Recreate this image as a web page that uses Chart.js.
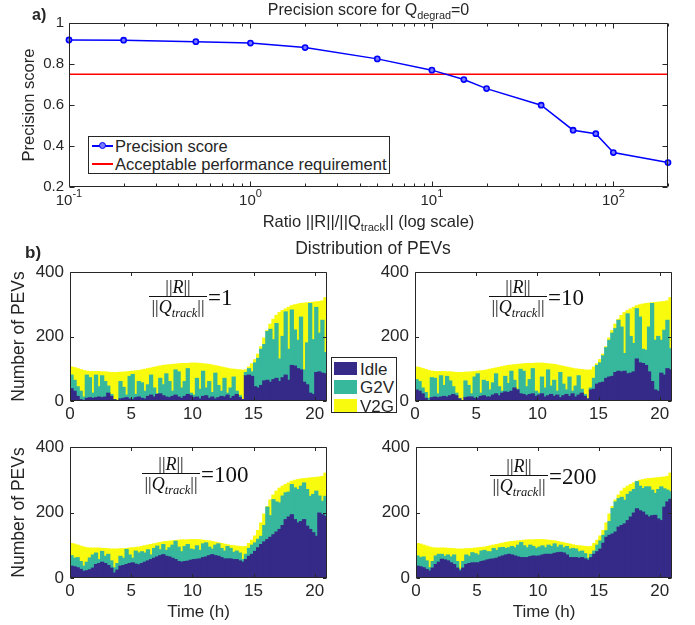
<!DOCTYPE html>
<html><head><meta charset="utf-8">
<script src="https://cdn.jsdelivr.net/npm/chart.js@4.4.1/dist/chart.umd.min.js"></script>
<style>
html,body{margin:0;padding:0;background:#fff}
body{position:relative;width:695px;height:625px;overflow:hidden;font-family:"Liberation Sans",Arial,Helvetica,sans-serif;color:#262626}
canvas{position:absolute}
.t{position:absolute;white-space:nowrap;line-height:1}
.c{transform:translate(-50%,-50%)}
.v{transform:translateY(-50%)}
.t sub{font-size:0.68em;vertical-align:-0.4em;line-height:0}
.lg{position:absolute;background:#fff;border:1px solid #262626;box-sizing:border-box}
.frac{position:absolute;height:0;border-top:1px solid #111;font-family:"Liberation Serif","Times New Roman",serif;color:#111}
.frac .num{position:absolute;left:0;right:0;bottom:1px;text-align:center;font-size:18px;line-height:1;white-space:nowrap}
.frac .den{position:absolute;left:0;right:0;top:1px;text-align:center;font-size:18px;line-height:1;white-space:nowrap}
.frac .eq{position:absolute;left:100%;top:0;transform:translateY(-50%);font-size:23px;line-height:1;padding-left:1px;white-space:nowrap}
.frac i{font-style:italic}
.frac sub{font-size:12.5px;font-style:italic;vertical-align:-4px;line-height:0}
.sw{position:absolute;width:23px;height:13.5px}
</style></head><body>
<canvas id="cTop" width="695" height="240" style="left:0;top:0"></canvas>
<canvas id="p1" width="345" height="175" style="left:0;top:250px"></canvas>
<canvas id="p10" width="350" height="175" style="left:345px;top:250px"></canvas>
<canvas id="p100" width="345" height="195" style="left:0;top:430px"></canvas>
<canvas id="p200" width="350" height="195" style="left:345px;top:430px"></canvas>

<!-- panel a texts -->
<div class="t" style="left:32px;top:7px;font-size:16px;font-weight:bold">a)</div>
<div class="t c" style="left:368.5px;top:10px;font-size:16px">Precision score for Q<sub>degrad</sub>=0</div>
<div class="t c" style="left:368.5px;top:221px;font-size:16.5px">Ratio ||R||/||Q<sub>track</sub>|| (log scale)</div>
<div class="lg" style="left:88px;top:136px;width:302px;height:38px"></div>
<div style="position:absolute;left:92px;top:145px;width:21px;height:1.6px;background:#0000ff"></div>
<div style="position:absolute;left:98.5px;top:141.7px;width:5px;height:5px;border:1.5px solid #0000ff;border-radius:50%;background:#7a7aff"></div>
<div class="t v" style="left:115px;top:146px;font-size:16.5px">Precision score</div>
<div style="position:absolute;left:92px;top:162.5px;width:21px;height:2px;background:#ff0000"></div>
<div class="t v" style="left:115px;top:163.5px;font-size:16.5px">Acceptable performance requirement</div>

<!-- panel b texts -->
<div class="t" style="left:25px;top:244px;font-size:17px;font-weight:bold">b)</div>
<div class="t c" style="left:373px;top:249px;font-size:17.5px">Distribution of PEVs</div>

<div class="frac" style="left:149px;top:296px;width:58px"><div class="num">||<i>R</i>||</div><div class="den">||<i>Q</i><sub>track</sub>||</div><div class="eq">=1</div></div>
<div class="frac" style="left:489px;top:296px;width:58px"><div class="num">||<i>R</i>||</div><div class="den">||<i>Q</i><sub>track</sub>||</div><div class="eq">=10</div></div>
<div class="frac" style="left:142px;top:473px;width:58px"><div class="num">||<i>R</i>||</div><div class="den">||<i>Q</i><sub>track</sub>||</div><div class="eq">=100</div></div>
<div class="frac" style="left:490px;top:475px;width:58px"><div class="num">||<i>R</i>||</div><div class="den">||<i>Q</i><sub>track</sub>||</div><div class="eq">=200</div></div>

<div class="lg" style="left:331px;top:357px;width:66px;height:56px"></div>
<div class="sw" style="left:334px;top:361.5px;background:#352A87"></div>
<div class="sw" style="left:334px;top:380px;background:#37B89D"></div>
<div class="sw" style="left:334px;top:398.5px;background:#F9FB0E"></div>
<div class="t v" style="left:360px;top:369px;font-size:17px">Idle</div>
<div class="t v" style="left:360px;top:387px;font-size:17px">G2V</div>
<div class="t v" style="left:360px;top:405.5px;font-size:17px">V2G</div>

<script>
// ---------- Data: panel a ----------
const ratios = [0.1, 0.2, 0.5, 1, 2, 5, 10, 15, 20, 40, 60, 80, 100, 200];
const precision = [0.917, 0.916, 0.909, 0.902, 0.880, 0.825, 0.770, 0.724, 0.680, 0.599, 0.477, 0.460, 0.368, 0.319];
const requirement = 0.75;
const ratioTickExps = [-1, 0, 1, 2];

// ---------- Data: panel b (15-min slots, 0..21 h) ----------
const slotStart = [0,0.25,0.5,0.75,1,1.25,1.5,1.75,2,2.25,2.5,2.75,3,3.25,3.5,3.75,4,4.25,4.5,4.75,5,5.25,5.5,5.75,6,6.25,6.5,6.75,7,7.25,7.5,7.75,8,8.25,8.5,8.75,9,9.25,9.5,9.75,10,10.25,10.5,10.75,11,11.25,11.5,11.75,12,12.25,12.5,12.75,13,13.25,13.5,13.75,14,14.25,14.5,14.75,15,15.25,15.5,15.75,16,16.25,16.5,16.75,17,17.25,17.5,17.75,18,18.25,18.5,18.75,19,19.25,19.5,19.75,20,20.25,20.5,20.75];
const slotWidth = 0.25;
// total number of PEVs (top of the V2G band), same in all four panels
const total = [105,103,100,97,94,92,91,91,91,91,90,90,89,88,88,88,89,89,90,91,92,93,94,96,98,100,102,104,106,108,110,111,112,113,114,115,116,116,116,117,117,117,116,115,114,113,111,109,107,105,103,101,99,98,97,96,95,96,105,115,128,145,168,195,218,238,253,265,274,280,285,290,295,298,300,302,303,304,305,306,307,308,310,320];
// ||R||/||Q|| = 1 : Idle count, and top of the G2V band (Idle + G2V)
const idle1 = [38,30,14,4,0,8,10,8,10,12,10,12,24,14,4,0,6,8,10,6,4,10,12,8,6,14,18,12,20,22,16,12,10,14,18,12,8,14,20,16,10,12,6,14,16,8,12,6,10,14,12,18,8,14,20,10,4,78,80,76,44,40,48,62,64,58,66,70,60,72,80,64,110,108,100,96,58,50,24,20,88,90,86,84];
const g2vTop1 = [80,64,44,30,12,80,72,24,80,44,78,60,46,20,4,0,60,42,18,76,82,20,60,56,30,50,80,40,22,70,50,84,60,30,96,90,40,60,100,24,18,70,36,92,40,60,26,86,48,30,70,24,40,74,30,16,4,88,100,90,118,132,160,175,215,222,190,240,130,200,276,160,282,220,188,260,96,180,302,190,290,210,250,150];
// ||R||/||Q|| = 10
const idle10 = [34,30,22,8,0,10,12,10,12,14,12,16,20,16,6,0,10,12,12,8,8,14,16,12,12,18,22,16,24,28,26,30,40,34,22,20,16,20,22,14,18,22,12,16,20,14,18,10,16,20,14,22,12,18,24,14,6,34,36,52,56,58,70,74,76,88,92,90,92,84,86,90,130,118,116,110,90,60,34,30,86,80,100,96];
const g2vTop10 = [66,60,40,26,8,72,70,22,78,48,76,62,44,24,8,0,62,48,22,74,84,24,64,60,34,56,84,44,30,76,54,92,64,36,98,92,44,66,100,30,24,74,40,96,46,64,30,88,52,34,74,30,46,78,36,20,6,40,70,110,118,140,165,188,210,224,250,229,147,270,200,178,286,260,160,157,229,302,188,200,188,219,250,162];
// ||R||/||Q|| = 100
const idle100 = [36,34,31,26,20,22,25,30,41,44,48,44,38,30,15,24,36,38,41,44,46,42,40,44,48,52,56,60,64,68,71,66,64,60,56,50,48,50,51,54,56,57,58,62,64,68,71,68,66,62,58,58,58,56,56,52,48,56,66,72,81,92,102,110,117,124,132,140,148,160,178,186,193,178,168,172,178,158,148,138,127,198,193,188];
const g2vTop100 = [68,60,62,50,36,48,61,70,76,56,81,66,72,52,31,44,66,60,87,70,60,82,76,80,76,86,70,90,97,86,102,84,92,100,112,94,80,96,102,88,86,98,84,104,107,94,88,100,104,90,82,96,90,78,82,76,56,72,90,100,107,118,127,160,216,190,239,232,229,250,260,262,285,275,270,280,290,270,249,255,265,250,234,249];
// ||R||/||Q|| = 200
const idle200 = [36,34,31,26,21,30,41,48,57,55,52,46,41,30,21,30,41,44,46,46,46,50,52,55,57,58,60,64,67,70,72,70,67,64,62,62,62,65,67,66,67,70,72,72,72,75,77,78,76,70,62,62,62,60,62,58,54,62,72,80,88,106,124,130,134,140,155,160,165,175,186,198,211,205,201,192,186,190,191,180,175,216,232,240];
const g2vTop200 = [67,62,64,52,31,50,67,72,72,66,70,64,70,50,26,50,70,66,77,74,70,82,84,80,80,90,84,92,93,90,92,96,92,100,108,98,92,100,96,90,94,98,92,100,96,104,94,100,92,96,88,90,88,80,82,74,60,72,82,100,113,130,144,172,212,232,242,246,237,255,263,270,294,280,273,278,278,268,258,270,278,272,268,263];

// ---------- Styling ----------
const AXC = '#262626';
const COL_IDLE = '#352A87', COL_G2V = '#37B89D', COL_V2G = '#F9FB0E';
Chart.defaults.font.family = '"Liberation Sans", Arial, Helvetica, sans-serif';
Chart.defaults.color = AXC;

function framePlugin(xTicks, yTicks) {
  return {
    id: 'frame',
    afterDatasetsDraw(chart) {
      const {ctx, chartArea: a, scales} = chart;
      const L = Math.round(a.left) + 0.5, R = Math.round(a.right) - 0.5;
      const T = Math.round(a.top) + 0.5, B = Math.round(a.bottom) - 0.5;
      ctx.save();
      ctx.strokeStyle = AXC; ctx.lineWidth = 1;
      ctx.beginPath();
      ctx.rect(L, T, R - L, B - T);
      for (const t of xTicks(scales.x)) {
        const px = Math.round(scales.x.getPixelForValue(t.v)) + 0.5;
        ctx.moveTo(px, B); ctx.lineTo(px, B - t.len);
        ctx.moveTo(px, T); ctx.lineTo(px, T + t.len);
      }
      for (const t of yTicks(scales.y)) {
        const py = Math.round(scales.y.getPixelForValue(t.v)) + 0.5;
        ctx.moveTo(L, py); ctx.lineTo(L + t.len, py);
        ctx.moveTo(R, py); ctx.lineTo(R - t.len, py);
      }
      ctx.stroke();
      ctx.restore();
    }
  };
}

// ---------- Panel a ----------
const logTickLabels = {
  id: 'logTickLabels',
  afterDraw(chart) {
    const {ctx, chartArea: a, scales: {x}} = chart;
    const big = '15px "Liberation Sans", Arial, sans-serif';
    const small = '11px "Liberation Sans", Arial, sans-serif';
    ctx.save();
    ctx.fillStyle = AXC; ctx.textBaseline = 'alphabetic'; ctx.textAlign = 'left';
    for (const e of ratioTickExps) {
      const px = x.getPixelForValue(Math.pow(10, e));
      ctx.font = big; const w1 = ctx.measureText('10').width;
      const es = String(e);
      ctx.font = small; const w2 = ctx.measureText(es).width;
      const x0 = px - (w1 + w2) / 2;
      ctx.font = big; ctx.fillText('10', x0, a.bottom + 18);
      ctx.font = small; ctx.fillText(es, x0 + w1, a.bottom + 10);
    }
    ctx.restore();
  }
};

function logTickList() {
  const out = [];
  for (const e of ratioTickExps) {
    for (let k = 1; k <= 9; k++) {
      const v = k * Math.pow(10, e);
      if (v >= 0.1 - 1e-9 && v <= 200 + 1e-9) out.push({v, len: k === 1 ? 5 : 3});
    }
  }
  return out;
}

new Chart(document.getElementById('cTop'), {
  type: 'line',
  data: {
    datasets: [
      {
        label: 'Precision score',
        data: ratios.map((r, i) => ({x: r, y: precision[i]})),
        borderColor: '#0000ff', borderWidth: 1.5,
        pointRadius: 2.6, pointBorderWidth: 1.6,
        pointBackgroundColor: '#7a7aff', pointBorderColor: '#0000ff',
        tension: 0, clip: false, order: 0
      },
      {
        label: 'Acceptable performance requirement',
        data: [{x: ratios[0], y: requirement}, {x: ratios[ratios.length - 1], y: requirement}],
        borderColor: '#ff0000', borderWidth: 1.5, pointRadius: 0, tension: 0, order: 1
      }
    ]
  },
  options: {
    responsive: false, animation: false, events: [],
    layout: {padding: {left: 0, top: 23, right: 27, bottom: 0}},
    plugins: {legend: {display: false}, tooltip: {enabled: false}},
    scales: {
      x: {
        type: 'logarithmic', min: 0.1, max: 200,
        grid: {display: false, drawTicks: false}, border: {display: false},
        ticks: {display: false},
        afterFit(s) { s.height = 53; }
      },
      y: {
        min: 0.2, max: 1,
        grid: {display: false, drawTicks: false}, border: {display: false},
        ticks: {stepSize: 0.2, font: {size: 15}, color: AXC, padding: 5,
                callback: v => String(Math.round(v * 10) / 10)},
        title: {display: true, text: 'Precision score', font: {size: 16.5}, color: AXC, padding: {top: 20, bottom: 0}},
        afterFit(s) { s.width = 69; }
      }
    }
  },
  plugins: [
    framePlugin(() => logTickList(), y => y.ticks.map(t => ({v: t.value, len: 5}))),
    logTickLabels
  ]
});

// ---------- Panel b ----------
function makePanel(id, idle, g2vTop, o) {
  const centers = slotStart.map(s => s + slotWidth / 2);
  const band = (lo, hi) => centers.map((c, i) => ({x: c, y: [lo ? lo[i] : 0, hi[i]]}));
  return new Chart(document.getElementById(id), {
    type: 'bar',
    data: {
      datasets: [
        {label: 'Idle', data: band(null, idle), backgroundColor: COL_IDLE},
        {label: 'G2V', data: band(idle, g2vTop), backgroundColor: COL_G2V},
        {label: 'V2G', data: band(g2vTop, total), backgroundColor: COL_V2G}
      ]
    },
    options: {
      responsive: false, animation: false, events: [],
      datasets: {bar: {barPercentage: 1, categoryPercentage: 1, borderWidth: 0, inflateAmount: 0.6}},
      layout: {padding: {left: 0, top: o.padTop, right: o.padRight, bottom: 0}},
      plugins: {legend: {display: false}, tooltip: {enabled: false}},
      scales: {
        x: {
          type: 'linear', min: 0, max: 21, offset: false, stacked: true,
          grid: {display: false, drawTicks: false, offset: false}, border: {display: false},
          ticks: {stepSize: 5, includeBounds: false, font: {size: 17}, color: AXC, padding: 3, maxRotation: 0, autoSkip: false},
          title: {display: o.xTitle, text: 'Time (h)', font: {size: 17}, color: AXC, padding: {top: 0, bottom: 2}},
          afterFit(s) { s.height = o.xH; }
        },
        y: {
          min: 0, max: 400, stacked: false,
          grid: {display: false, drawTicks: false}, border: {display: false},
          ticks: {stepSize: 200, font: {size: 17}, color: AXC, padding: 6},
          title: {display: o.yTitle, text: 'Number of PEVs', font: {size: 17.5}, color: AXC, padding: {top: 9, bottom: 0}},
          afterFit(s) { s.width = o.yW; }
        }
      }
    },
    plugins: [framePlugin(
      x => x.ticks.map(t => ({v: t.value, len: 3.5})),
      y => y.ticks.map(t => ({v: t.value, len: 3.5}))
    )]
  });
}

makePanel('p1', idle1, g2vTop1, {padTop: 22, padRight: 18, yW: 70, xH: 24, yTitle: true, xTitle: false});
makePanel('p10', idle10, g2vTop10, {padTop: 22, padRight: 23, yW: 70, xH: 24, yTitle: false, xTitle: false});
makePanel('p100', idle100, g2vTop100, {padTop: 17, padRight: 18, yW: 70, xH: 47, yTitle: true, xTitle: true});
makePanel('p200', idle200, g2vTop200, {padTop: 17, padRight: 23, yW: 71, xH: 47, yTitle: false, xTitle: true});
</script>
</body></html>
